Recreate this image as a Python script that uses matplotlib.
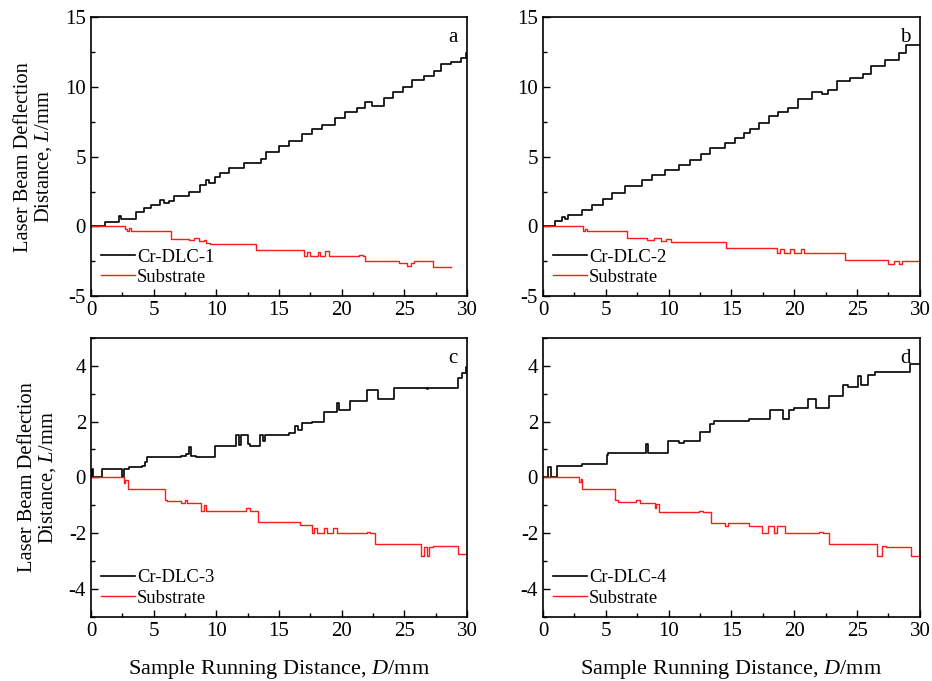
import matplotlib.pyplot as plt
from matplotlib.ticker import MultipleLocator

plt.rcParams['font.family'] = ['Liberation Serif', 'DejaVu Serif']
plt.rcParams['mathtext.fontset'] = 'custom'
plt.rcParams['mathtext.it'] = 'Liberation Serif:italic'
plt.rcParams['mathtext.rm'] = 'Liberation Serif'
plt.rcParams['axes.unicode_minus'] = False

# step breakpoints (x, mm) and levels (y, mm), drawn as steps-post
a_dlc_x = [0, 1.1, 2.2, 2.4, 2.6, 3.6, 4.25, 4.8, 5.5, 5.8, 6.2, 6.6, 7.8, 8.7, 9.2, 9.4, 9.9,
           10.3, 11.0, 12.2, 13.6, 14.0, 15.0, 15.8, 16.8, 17.6, 18.4, 19.5, 20.3, 21.2, 21.9,
           22.4, 23.4, 24.1, 24.9, 25.6, 26.6, 27.4, 27.9, 28.7, 29.5, 29.9, 30]
a_dlc_y = [0, 0.3, 0.75, 0.5, 0.55, 1.0, 1.3, 1.55, 1.9, 1.7, 1.85, 2.2, 2.5, 3.0, 3.3, 3.1, 3.55,
           3.8, 4.2, 4.55, 4.8, 5.3, 5.75, 6.1, 6.6, 7.0, 7.3, 7.8, 8.2, 8.5, 8.9,
           8.6, 9.2, 9.6, 10.0, 10.5, 10.8, 11.1, 11.6, 11.8, 12.1, 12.4, 12.4]
a_sub_x = [0, 2.7, 2.9, 3.0, 3.2, 6.4, 7.8, 8.2, 8.6, 9.0, 9.2, 9.5, 13.2, 17.0, 17.2, 17.5,
           18.1, 18.3, 18.7, 19.0, 21.4, 21.7, 21.9, 24.6, 25.2, 25.5, 25.8, 26.1, 27.3, 28.7]
a_sub_y = [0, -0.15, -0.35, -0.1, -0.3, -0.9, -0.95, -0.85, -1.05, -0.95, -1.2, -1.25, -1.68,
           -2.1, -1.8, -2.1, -1.85, -2.1, -1.75, -2.1, -2.05, -2.15, -2.5, -2.6, -2.8, -2.65,
           -2.5, -2.45, -2.88, -2.88]

b_dlc_x = [0, 0.95, 1.5, 1.75, 2.0, 3.1, 3.9, 4.8, 5.5, 6.5, 7.9, 8.7, 9.7, 10.8, 11.7, 12.6,
           13.3, 14.5, 15.3, 16.0, 16.5, 17.2, 18.0, 18.7, 19.5, 20.3, 21.4, 22.2, 22.7, 23.4,
           24.4, 25.5, 26.1, 27.2, 28.3, 28.9, 30]
b_dlc_y = [0, 0.36, 0.7, 0.5, 0.84, 1.2, 1.55, 2.0, 2.4, 2.9, 3.35, 3.7, 4.05, 4.4, 4.75, 5.2,
           5.6, 5.95, 6.3, 6.7, 7.0, 7.4, 7.9, 8.2, 8.5, 9.1, 9.6, 9.5, 9.8, 10.4,
           10.6, 10.9, 11.5, 11.9, 12.4, 13.0, 13.0]
b_sub_x = [0, 3.2, 3.35, 3.5, 6.7, 8.3, 8.8, 9.4, 9.8, 10.2, 14.6, 18.6, 18.9, 19.2, 19.7,
           20.0, 20.5, 20.8, 24.0, 27.5, 27.9, 28.3, 28.6, 30]
b_sub_y = [0, -0.3, -0.15, -0.36, -0.84, -0.95, -0.85, -1.05, -0.9, -1.15, -1.55, -1.9, -1.6,
           -1.9, -1.6, -1.9, -1.6, -1.9, -2.4, -2.7, -2.5, -2.7, -2.45, -2.45]

c_dlc_x = [0, 0.1, 0.2, 0.85, 2.5, 2.65, 3.0, 4.1, 4.3, 4.5, 7.2, 7.6, 7.8, 8.0, 8.4, 9.9,
           11.5, 11.6, 11.8, 12.0, 12.5, 12.7, 13.5, 13.7, 13.9, 14.1, 15.8, 16.3, 16.5,
           16.8, 17.6, 18.6, 19.6, 19.8, 20.7, 22.0, 22.9, 24.2, 26.8, 26.9, 29.3, 29.6, 29.9, 30]
c_dlc_y = [0, 0.3, 0, 0.3, 0, 0.3, 0.36, 0.4, 0.55, 0.72, 0.78, 0.85, 1.1, 0.78, 0.72, 1.12,
           1.12, 1.5, 1.15, 1.5, 1.2, 1.12, 1.5, 1.3, 1.5, 1.5, 1.6, 1.85, 1.7,
           1.93, 2.0, 2.35, 2.65, 2.4, 2.75, 3.12, 2.8, 3.2, 3.15, 3.2, 3.55, 3.75, 3.95, 3.95]
c_sub_x = [0, 2.6, 2.75, 2.95, 5.9, 6.1, 7.2, 7.5, 7.7, 8.8, 9.0, 9.2, 9.4, 12.4, 12.7, 13.3,
           16.7, 17.6, 17.8, 18.0, 18.6, 18.8, 19.3, 19.6, 22.0, 22.3, 22.7, 26.3, 26.6, 26.8,
           27.0, 27.3, 29.3, 30]
c_sub_y = [0, -0.2, -0.1, -0.43, -0.8, -0.85, -0.9, -0.8, -0.9, -1.2, -1.0, -1.2, -1.2,
           -1.1, -1.2, -1.6, -1.72, -2.0, -1.8, -2.0, -1.8, -2.0, -1.8, -2.0, -1.95, -2.0,
           -2.4, -2.8, -2.5, -2.8, -2.5, -2.45, -2.76, -2.76]

d_dlc_x = [0, 0.4, 0.6, 1.1, 3.1, 5.1, 5.2, 8.2, 8.35, 9.95, 10.8, 11.2, 12.5, 13.3, 13.6,
           16.4, 18.1, 19.1, 19.6, 20.0, 21.1, 21.7, 22.8, 23.9, 24.3, 25.1, 25.3, 25.9, 26.4,
           29.2, 30]
d_dlc_y = [0, 0.38, 0, 0.4, 0.48, 0.8, 0.88, 1.2, 0.88, 1.29, 1.22, 1.29, 1.62, 1.9, 2.02,
           2.1, 2.4, 2.1, 2.4, 2.5, 2.8, 2.5, 2.9, 3.3, 3.25, 3.64, 3.3, 3.65, 3.77,
           4.05, 4.05]
d_sub_x = [0, 2.9, 3.0, 3.1, 5.7, 6.0, 7.4, 7.7, 8.9, 9.0, 9.2, 12.4, 12.7, 13.4, 14.5, 14.7,
           16.4, 17.4, 17.9, 18.4, 18.6, 19.3, 19.8, 22.0, 22.3, 22.8, 26.6, 27.0, 27.3, 29.3, 30]
d_sub_y = [0, -0.15, -0.05, -0.4, -0.82, -0.88, -0.82, -0.9, -1.1, -0.95, -1.25, -1.2, -1.25,
           -1.65, -1.74, -1.65, -1.74, -2.0, -1.75, -2.0, -1.75, -2.0, -2.0, -1.95, -2.0,
           -2.4, -2.8, -2.45, -2.5, -2.8, -2.8]

panels = [
    ('a', 'Cr-DLC-1', a_dlc_x, a_dlc_y, a_sub_x, a_sub_y, (-5, 15), 5),
    ('b', 'Cr-DLC-2', b_dlc_x, b_dlc_y, b_sub_x, b_sub_y, (-5, 15), 5),
    ('c', 'Cr-DLC-3', c_dlc_x, c_dlc_y, c_sub_x, c_sub_y, (-5, 5), 2),
    ('d', 'Cr-DLC-4', d_dlc_x, d_dlc_y, d_sub_x, d_sub_y, (-5, 5), 2),
]

fig = plt.figure(figsize=(9.32, 6.81), dpi=100)
boxes = [
    [0.0976, 0.565, 0.4034, 0.410],
    [0.5826, 0.565, 0.4044, 0.410],
    [0.0976, 0.094, 0.4034, 0.410],
    [0.5826, 0.094, 0.4044, 0.410],
]

for i, (tag, name, xd, yd, xs, ys, ylim, ystep) in enumerate(panels):
    ax = fig.add_axes(boxes[i])
    ax.plot(xd, yd, drawstyle='steps-post', color='black', lw=1.2, label=name)
    ax.plot(xs, ys, drawstyle='steps-post', color='#ff1a1a', lw=1.0, label='Substrate')
    ax.set_xlim(0, 30)
    ax.set_ylim(*ylim)
    ax.xaxis.set_major_locator(MultipleLocator(5))
    ax.xaxis.set_minor_locator(MultipleLocator(2.5))
    ax.yaxis.set_major_locator(MultipleLocator(ystep))
    ax.yaxis.set_minor_locator(MultipleLocator(ystep / 2))
    ax.tick_params(which='both', direction='in', labelsize=15)
    ax.tick_params(which='major', length=5, width=1)
    ax.tick_params(which='minor', length=3, width=1)
    for sp in ax.spines.values():
        sp.set_linewidth(1.2)
    ax.text(0.962, 0.925, tag, transform=ax.transAxes, ha='center', va='center', fontsize=15)
    ax.legend(loc='lower left', frameon=False, fontsize=13.4, handlelength=1.8,
              handletextpad=0.12, borderaxespad=0.15, labelspacing=0.18)
    if i % 2 == 0:
        ax.set_ylabel('Laser Beam Deflection\nDistance, $L$/mm', fontsize=14.8, labelpad=8,
                      linespacing=1.0)
    if i >= 2:
        ax.set_xlabel('Sample Running Distance, $D$/mm', fontsize=16, labelpad=12)

fig.savefig('out.png', dpi=100)
